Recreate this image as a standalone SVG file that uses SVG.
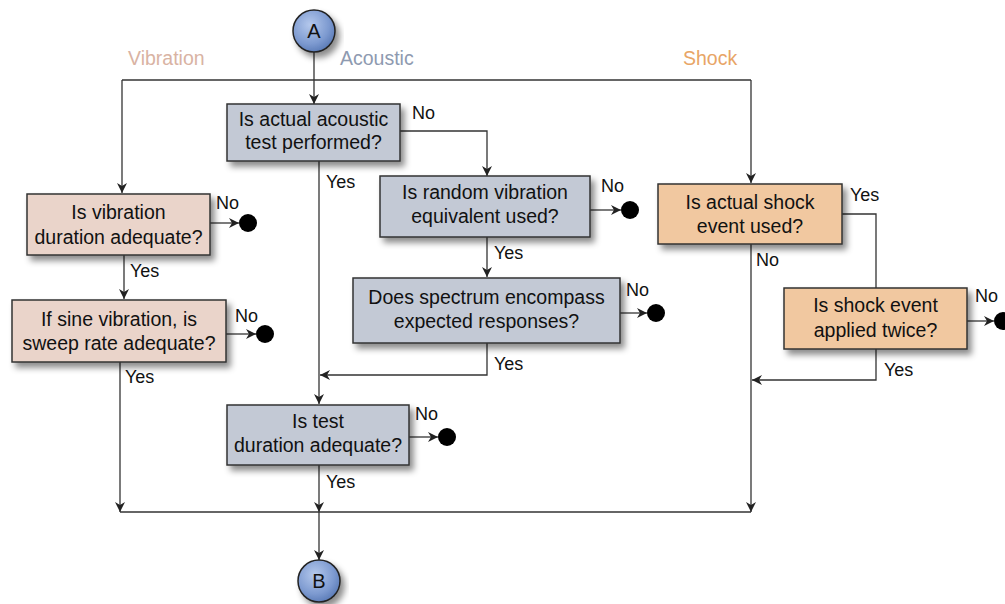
<svg xmlns="http://www.w3.org/2000/svg" width="1005" height="604" viewBox="0 0 1005 604">
<defs>
<filter id="sh" x="-10%" y="-10%" width="130%" height="140%">
<feDropShadow dx="4" dy="5" stdDeviation="3" flood-color="#000" flood-opacity="0.45"/>
</filter>
<radialGradient id="cg" cx="40%" cy="35%" r="65%">
<stop offset="0" stop-color="#b4c8ec"/>
<stop offset="0.7" stop-color="#7d9ad0"/>
<stop offset="1" stop-color="#5f7fba"/>
</radialGradient>
<marker id="ar" viewBox="0 0 10 10" refX="10" refY="5" markerWidth="10" markerHeight="10" markerUnits="userSpaceOnUse" orient="auto">
<path d="M0,0 L10,5 L0,10 L3,5 Z" fill="#222"/>
</marker>
</defs>
<style>
.ln{fill:none;stroke:#333;stroke-width:1.3}
.box{stroke:#333;stroke-width:1.5;filter:url(#sh)}
.vib{fill:#ead4ca}
.aco{fill:#c3c9d5}
.sho{fill:#f1c8a0}
.t{font-family:"Liberation Sans",Arial,sans-serif;font-size:19.5px;fill:#111;text-anchor:middle}
.l{font-family:"Liberation Sans",Arial,sans-serif;font-size:18px;fill:#111}
.h{font-family:"Liberation Sans",Arial,sans-serif;font-size:19.5px}
.dot{fill:#000}
.circ{fill:url(#cg);stroke:#222;stroke-width:1.5;filter:url(#sh)}
.ct{font-family:"Liberation Sans",Arial,sans-serif;font-size:20px;fill:#111;text-anchor:middle}
</style>

<g id="headers">
<text class="h" x="128" y="65" fill="#d9b3a3">Vibration</text>
<text class="h" x="340" y="65" fill="#8e9ab0">Acoustic</text>
<text class="h" x="683" y="65" fill="#e8a566">Shock</text>
</g>

<g id="connectors">
<path class="ln" d="M314,52 V104" marker-end="url(#ar)"/>
<path class="ln" d="M122,80 H751"/>
<path class="ln" d="M122,80 V193" marker-end="url(#ar)"/>
<path class="ln" d="M751,80 V183" marker-end="url(#ar)"/>
<path class="ln" d="M400,131 H487 V176" marker-end="url(#ar)"/>
<path class="ln" d="M319,161 V404" marker-end="url(#ar)"/>
<path class="ln" d="M590,210 H621" marker-end="url(#ar)"/>
<path class="ln" d="M487,237 V277" marker-end="url(#ar)"/>
<path class="ln" d="M620,313 H647" marker-end="url(#ar)"/>
<path class="ln" d="M487,343 V375 H320" marker-end="url(#ar)"/>
<path class="ln" d="M409,437 H438" marker-end="url(#ar)"/>
<path class="ln" d="M319,465 V512" marker-end="url(#ar)"/>
<path class="ln" d="M319,512 V560" marker-end="url(#ar)"/>
<path class="ln" d="M210,223 H239" marker-end="url(#ar)"/>
<path class="ln" d="M124,255 V299" marker-end="url(#ar)"/>
<path class="ln" d="M226,334 H256" marker-end="url(#ar)"/>
<path class="ln" d="M120,362 V512" marker-end="url(#ar)"/>
<path class="ln" d="M120,512 H751"/>
<path class="ln" d="M842,214 H876 V288"/>
<path class="ln" d="M751,244 V512" marker-end="url(#ar)"/>
<path class="ln" d="M967,321 H994" marker-end="url(#ar)"/>
<path class="ln" d="M876,349 V380 H752" marker-end="url(#ar)"/>
</g>

<g id="labels">
<text class="l" x="412" y="119">No</text>
<text class="l" x="326" y="188">Yes</text>
<text class="l" x="601" y="192">No</text>
<text class="l" x="494" y="259">Yes</text>
<text class="l" x="626" y="296">No</text>
<text class="l" x="494" y="370">Yes</text>
<text class="l" x="415" y="420">No</text>
<text class="l" x="326" y="488">Yes</text>
<text class="l" x="216" y="209">No</text>
<text class="l" x="130" y="277">Yes</text>
<text class="l" x="235" y="322">No</text>
<text class="l" x="125" y="383">Yes</text>
<text class="l" x="850" y="201">Yes</text>
<text class="l" x="756" y="266">No</text>
<text class="l" x="975" y="302">No</text>
<text class="l" x="884" y="376">Yes</text>
</g>

<g id="ends">
<circle class="dot" cx="630" cy="210" r="9"/>
<circle class="dot" cx="656" cy="313" r="9"/>
<circle class="dot" cx="447" cy="437" r="9"/>
<circle class="dot" cx="248" cy="223" r="9"/>
<circle class="dot" cx="265" cy="334" r="9"/>
<circle class="dot" cx="1003" cy="321" r="9"/>
</g>

<g id="nodeA">
<circle class="circ" cx="314" cy="31" r="21"/>
<text class="ct" x="314" y="38">A</text>
</g>
<g id="nodeB">
<circle class="circ" cx="319" cy="581" r="21"/>
<text class="ct" x="319" y="588">B</text>
</g>

<g id="acoustic1">
<rect class="box aco" x="227" y="104" width="173" height="57"/>
<text class="t" x="313.5" y="126">Is actual acoustic</text>
<text class="t" x="313.5" y="149">test performed?</text>
</g>
<g id="acoustic2">
<rect class="box aco" x="380" y="176" width="210" height="61"/>
<text class="t" x="485" y="199">Is random vibration</text>
<text class="t" x="485" y="223">equivalent used?</text>
</g>
<g id="acoustic3">
<rect class="box aco" x="353" y="278" width="267" height="65"/>
<text class="t" x="486.5" y="304">Does spectrum encompass</text>
<text class="t" x="486.5" y="328">expected responses?</text>
</g>
<g id="acoustic4">
<rect class="box aco" x="227" y="405" width="182" height="60"/>
<text class="t" x="318" y="428">Is test</text>
<text class="t" x="318" y="452">duration adequate?</text>
</g>
<g id="vibration1">
<rect class="box vib" x="27" y="194" width="183" height="61"/>
<text class="t" x="118.5" y="219">Is vibration</text>
<text class="t" x="118.5" y="244">duration adequate?</text>
</g>
<g id="vibration2">
<rect class="box vib" x="12" y="300" width="214" height="62"/>
<text class="t" x="119" y="326">If sine vibration, is</text>
<text class="t" x="119" y="350">sweep rate adequate?</text>
</g>
<g id="shock1">
<rect class="box sho" x="658" y="184" width="184" height="60"/>
<text class="t" x="750" y="209">Is actual shock</text>
<text class="t" x="750" y="233">event used?</text>
</g>
<g id="shock2">
<rect class="box sho" x="784" y="288" width="183" height="61"/>
<text class="t" x="875.5" y="312">Is shock event</text>
<text class="t" x="875.5" y="337">applied twice?</text>
</g>
</svg>
